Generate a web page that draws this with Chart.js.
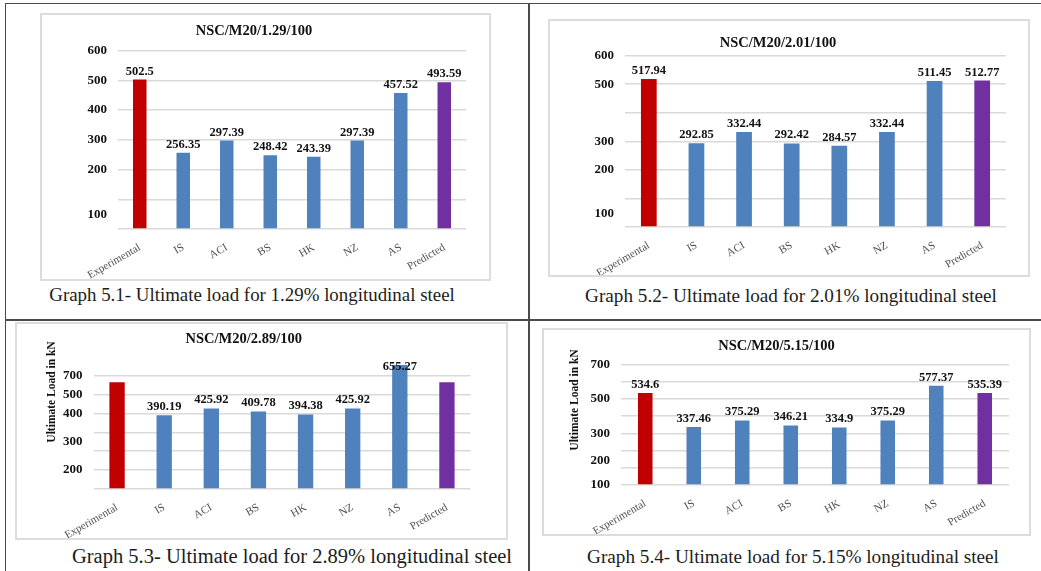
<!DOCTYPE html>
<html>
<head>
<meta charset="utf-8">
<title>Ultimate load comparison</title>
<script src="https://cdn.jsdelivr.net/npm/chart.js@4.4.1/dist/chart.umd.min.js"></script>
<style>
  html, body { margin: 0; padding: 0; background: #fff; }
  body { width: 1041px; height: 571px; position: relative; overflow: hidden;
         font-family: 'Liberation Serif', 'DejaVu Serif', serif; }
  .rule { position: absolute; background: #4a4a4a; }
  .panel { position: absolute; box-sizing: border-box; border: 2px solid #dcdcdc; background: #fff; }
  .panel canvas { display: block; }
  .caption { position: absolute; white-space: nowrap; color: #1c1c1c;
             font-family: 'Liberation Serif', 'DejaVu Serif', serif;
             transform: translate(-50%, -50%); }
</style>
</head>
<body>
  <!-- table rules -->
  <div class="rule" style="left:5px;top:3px;width:1036px;height:1px"></div>
  <div class="rule" style="left:5px;top:3px;width:1px;height:568px"></div>
  <div class="rule" style="left:528px;top:3px;width:1.5px;height:568px"></div>
  <div class="rule" style="left:5px;top:319px;width:1036px;height:1.5px"></div>

  <div class="panel" style="left:40px;top:13px;width:451px;height:268px"><canvas id="c1" width="447" height="264"></canvas></div>
  <div class="panel" style="left:548px;top:19px;width:482px;height:258px"><canvas id="c2" width="478" height="254"></canvas></div>
  <div class="panel" style="left:15px;top:322px;width:493px;height:218px"><canvas id="c3" width="489" height="214"></canvas></div>
  <div class="panel" style="left:542px;top:328px;width:489px;height:208px"><canvas id="c4" width="485" height="204"></canvas></div>

  <div class="caption" style="left:252px;top:295px;font-size:18.9px">Graph 5.1- Ultimate load for 1.29% longitudinal steel</div>
  <div class="caption" style="left:791px;top:296px;font-size:19.2px">Graph 5.2- Ultimate load for 2.01% longitudinal steel</div>
  <div class="caption" style="left:292px;top:556px;font-size:20.5px">Graph 5.3- Ultimate load for 2.89% longitudinal steel</div>
  <div class="caption" style="left:793px;top:557px;font-size:19.2px">Graph 5.4- Ultimate load for 5.15% longitudinal steel</div>

<script>
// ---- data -------------------------------------------------------------
const categories = ['Experimental', 'IS', 'ACI', 'BS', 'HK', 'NZ', 'AS', 'Predicted'];

const load129 = [502.5, 256.35, 297.39, 248.42, 243.39, 297.39, 457.52, 493.59];
const load201 = [517.94, 292.85, 332.44, 292.42, 284.57, 332.44, 511.45, 512.77];
const load289 = [565, 390.19, 425.92, 409.78, 394.38, 425.92, 655.27, 565];
const load515 = [534.6, 337.46, 375.29, 346.21, 334.9, 375.29, 577.37, 535.39];

// which bars carry a value label
const shown129 = [true, true, true, true, true, true, true, true];
const shown201 = [true, true, true, true, true, true, true, true];
const shown289 = [false, true, true, true, true, true, true, false];
const shown515 = [true, true, true, true, true, true, true, true];

const title129 = 'NSC/M20/1.29/100';
const title201 = 'NSC/M20/2.01/100';
const title289 = 'NSC/M20/2.89/100';
const title515 = 'NSC/M20/5.15/100';

const yAxisTitle = 'Ultimate Load in kN';

// y tick positions and the text printed at each
const tickAt129 = [0, 47, 100, 200, 300, 400, 500, 600];
const tickText129 = ['', '100', '', '200', '300', '400', '500', '600'];
const tickAt201 = [0, 48, 100, 200, 300, 400, 500, 600];
const tickText201 = ['', '100', '', '200', '300', '', '500', '600'];
const tickAt289 = [0, 100, 200, 250, 300, 400, 500, 600];
const tickText289 = ['', '200', '', '300', '', '400', '500', '700'];
const tickAt515 = [0, 100, 140, 200, 300, 400, 500, 600, 700];
const tickText515 = ['100', '', '200', '', '300', '', '500', '', '700'];

// ---- styling ----------------------------------------------------------
const SERIF = "'Liberation Serif', 'Times New Roman', serif";
const RED = '#C00000', BLUE = '#4F81BD', PURPLE = '#7030A0';
const fills = categories.map((c, i) => i === 0 ? RED : (i === categories.length - 1 ? PURPLE : BLUE));

// value printed above each bar
const valueLabels = {
  id: 'valueLabels',
  afterDatasetsDraw(chart, args, opts) {
    const meta = chart.getDatasetMeta(0);
    const data = chart.data.datasets[0].data;
    const ctx = chart.ctx;
    ctx.save();
    ctx.font = `bold 12.5px ${SERIF}`;
    ctx.fillStyle = '#111';
    ctx.textAlign = 'center';
    ctx.textBaseline = 'bottom';
    meta.data.forEach((bar, i) => {
      if (opts.shown && !opts.shown[i]) return;
      let y = bar.y - 2;
      y = Math.max(y, chart.chartArea.top + 9);
      ctx.fillText(String(data[i]), bar.x, y);
    });
    ctx.restore();
  }
};

// rotated y-axis caption
const yCaption = {
  id: 'yCaption',
  afterDraw(chart, args, opts) {
    if (!opts.text) return;
    const ctx = chart.ctx;
    ctx.save();
    ctx.translate(opts.x, opts.y);
    ctx.rotate(-Math.PI / 2);
    ctx.font = `bold 11.5px ${SERIF}`;
    ctx.fillStyle = '#111';
    ctx.textAlign = 'center';
    ctx.textBaseline = 'middle';
    ctx.fillText(opts.text, 0, 0);
    ctx.restore();
  }
};

function buildChart(id, values, shown, title, tickAt, tickText, g) {
  return new Chart(document.getElementById(id), {
    type: 'bar',
    data: {
      labels: categories,
      datasets: [{
        data: values,
        backgroundColor: fills,
        borderWidth: 0,
        barPercentage: g.barPct,
        categoryPercentage: 1
      }]
    },
    options: {
      responsive: false,
      animation: false,
      devicePixelRatio: 1,
      layout: { padding: { left: 0, right: g.right, top: 0, bottom: 0 } },
      plugins: {
        legend: { display: false },
        tooltip: { enabled: false },
        title: {
          display: true,
          text: title,
          color: '#111',
          font: { family: SERIF, size: 14.5, weight: 'bold' },
          padding: { top: g.titleTop, bottom: g.titleBottom }
        },
        valueLabels: { shown },
        yCaption: { text: g.yCaption || null, x: g.capX, y: g.capY }
      },
      scales: {
        x: {
          grid: { display: false },
          border: { display: false },
          ticks: {
            autoSkip: false, minRotation: 30, maxRotation: 30, padding: 4,
            color: '#505050', font: { family: SERIF, size: 11 }
          },
          afterFit(s) { s.height = g.bottom; }
        },
        y: {
          min: 0,
          max: g.max,
          border: { display: false },
          grid: {
            drawTicks: false,
            lineWidth: 1.5,
            color: (c) => (c.tick && c.tick.value % 100 === 0 && c.tick.value <= g.gridTop) ? '#d9d9d9' : 'rgba(0,0,0,0)'
          },
          ticks: {
            autoSkip: false,
            padding: 11,
            color: '#111',
            font: { family: SERIF, size: 13, weight: 'bold' },
            callback: (v) => { const k = tickAt.indexOf(v); return k < 0 ? '' : tickText[k]; }
          },
          afterBuildTicks(s) { s.ticks = tickAt.map(v => ({ value: v })); },
          afterFit(s) { s.width = g.left; }
        }
      }
    },
    plugins: [valueLabels, yCaption]
  });
}

buildChart('c1', load129, shown129, title129, tickAt129, tickText129,
  { left: 76, right: 23, bottom: 50, titleTop: 7.6, titleBottom: 10.6, max: 600, gridTop: 600, barPct: 0.31 });
buildChart('c2', load201, shown201, title201, tickAt201, tickText201,
  { left: 75, right: 22, bottom: 48, titleTop: 13.6, titleBottom: 3.6, max: 600, gridTop: 600, barPct: 0.33 });
buildChart('c3', load289, shown289, title289, tickAt289, tickText289,
  { left: 76.5, right: 35.5, bottom: 49, titleTop: 6.6, titleBottom: 16.2, max: 660, gridTop: 600, barPct: 0.325,
    yCaption: yAxisTitle, capX: 35, capY: 68 });
buildChart('c4', load515, shown515, title515, tickAt515, tickText515,
  { left: 77, right: 20, bottom: 49, titleTop: 7.6, titleBottom: 9.6, max: 700, gridTop: 700, barPct: 0.30,
    yCaption: yAxisTitle, capX: 31, capY: 70 });
</script>
</body>
</html>
